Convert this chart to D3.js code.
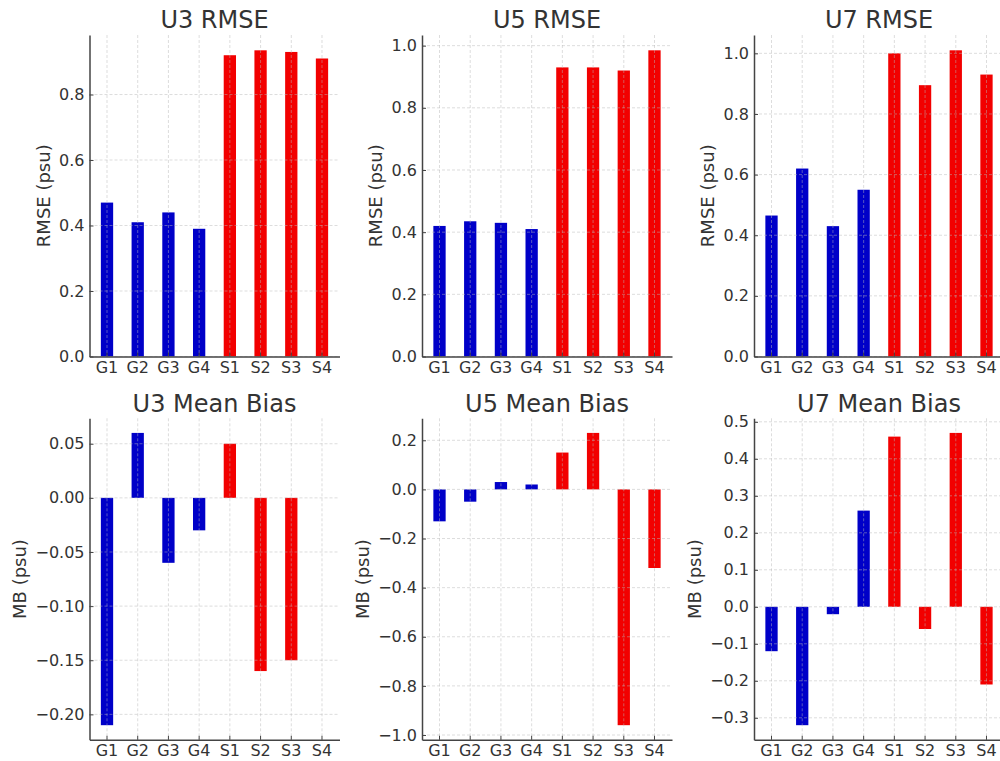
<!DOCTYPE html>
<html>
<head>
<meta charset="utf-8">
<script src="https://cdn.jsdelivr.net/npm/d3@7"></script>
<style>
  body { margin: 0; background: #fff; }
  svg { display: block; font-family: "DejaVu Sans", sans-serif; }
</style>
</head>
<body>
<div id="chart"></div>
<script>
const categories = ["G1", "G2", "G3", "G4", "S1", "S2", "S3", "S4"];

const u3Rmse = [0.47, 0.41, 0.44, 0.39, 0.92, 0.935, 0.93, 0.91];
const u5Rmse = [0.42, 0.435, 0.43, 0.41, 0.93, 0.93, 0.92, 0.985];
const u7Rmse = [0.465, 0.62, 0.43, 0.55, 1.0, 0.895, 1.01, 0.93];

const u3Mb = [-0.21, 0.06, -0.06, -0.03, 0.05, -0.16, -0.15, 0.0];
const u5Mb = [-0.13, -0.05, 0.03, 0.02, 0.15, 0.23, -0.96, -0.32];
const u7Mb = [-0.12, -0.32, -0.02, 0.26, 0.46, -0.06, 0.47, -0.21];

const rmseTicks = [0.0, 0.2, 0.4, 0.6, 0.8, 1.0];
const u3MbTicks = [-0.20, -0.15, -0.10, -0.05, 0.00, 0.05];
const u5MbTicks = [-1.0, -0.8, -0.6, -0.4, -0.2, 0.0, 0.2];
const u7MbTicks = [-0.3, -0.2, -0.1, 0.0, 0.1, 0.2, 0.3, 0.4, 0.5];

const panels = [
    { title: "U3 RMSE", label: "RMSE (psu)", values: u3Rmse, ticks: rmseTicks, digits: 1, row: 0, col: 0 },
    { title: "U5 RMSE", label: "RMSE (psu)", values: u5Rmse, ticks: rmseTicks, digits: 1, row: 0, col: 1 },
    { title: "U7 RMSE", label: "RMSE (psu)", values: u7Rmse, ticks: rmseTicks, digits: 1, row: 0, col: 2 },
    { title: "U3 Mean Bias", label: "MB (psu)", values: u3Mb, ticks: u3MbTicks, digits: 2, row: 1, col: 0 },
    { title: "U5 Mean Bias", label: "MB (psu)", values: u5Mb, ticks: u5MbTicks, digits: 1, row: 1, col: 1 },
    { title: "U7 Mean Bias", label: "MB (psu)", values: u7Mb, ticks: u7MbTicks, digits: 1, row: 1, col: 2 }
];

const colLeft = [89.5, 422, 754];
const rowTop = [35, 418.3];
const plotW = 250, plotH = 321.5;
const textColor = "#333";
const spineColor = "#444";

const svg = d3.select("#chart")
    .append("svg")
    .attr("width", 1000)
    .attr("height", 761);

const colorFor = c => c.startsWith("G") ? "#0000c8" : "#f20000";
const fmtNum = (v, digits) => {
    const s = Math.abs(v).toFixed(digits);
    return v < 0 ? "\u2212" + s : s;
};

panels.forEach(p => {
    const g = svg.append("g")
        .attr("transform", `translate(${colLeft[p.col]},${rowTop[p.row]})`);

    // matplotlib style autoscale: 5% margin, bars stick to zero
    let lo = Math.min(0, d3.min(p.values));
    let hi = Math.max(0, d3.max(p.values));
    const span = hi - lo;
    if (lo < 0) lo -= 0.05 * span;
    if (hi > 0) hi += 0.05 * span;

    const x = d3.scaleBand()
        .domain(categories)
        .range([0, plotW])
        .paddingInner(0.6)
        .paddingOuter(0.37);

    const y = d3.scaleLinear()
        .domain([lo, hi])
        .range([plotH, 0]);

    const ticks = p.ticks.filter(t => t >= lo - 1e-9 && t <= hi + 1e-9);

    // Draw bars
    g.selectAll(".bar")
        .data(categories.map((c, i) => ({ cat: c, v: p.values[i] })))
        .join("rect")
        .attr("class", "bar")
        .attr("x", d => x(d.cat))
        .attr("width", x.bandwidth())
        .attr("y", d => y(Math.max(0, d.v)))
        .attr("height", d => Math.abs(y(d.v) - y(0)))
        .attr("fill", d => colorFor(d.cat));

    // grid on top of bars
    g.append("g")
        .selectAll("line")
        .data(ticks)
        .join("line")
        .attr("x1", 0).attr("x2", plotW)
        .attr("y1", d => y(d)).attr("y2", d => y(d))
        .attr("stroke", "#b8b8b8")
        .attr("stroke-opacity", 0.6)
        .attr("stroke-width", 0.8)
        .attr("stroke-dasharray", "3,2");

    g.append("g")
        .selectAll("line")
        .data(categories)
        .join("line")
        .attr("x1", d => x(d) + x.bandwidth() / 2).attr("x2", d => x(d) + x.bandwidth() / 2)
        .attr("y1", 0).attr("y2", plotH)
        .attr("stroke", "#b8b8b8")
        .attr("stroke-opacity", 0.6)
        .attr("stroke-width", 0.8)
        .attr("stroke-dasharray", "3,2");

    const yAxis = g.append("g")
        .call(d3.axisLeft(y)
            .tickValues(ticks)
            .tickFormat(d => fmtNum(d, p.digits))
            .tickSizeInner(-4)
            .tickSizeOuter(0)
            .tickPadding(5));

    const xAxis = g.append("g")
        .attr("transform", `translate(0,${plotH})`)
        .call(d3.axisBottom(x)
            .tickSizeInner(-4)
            .tickSizeOuter(0)
            .tickPadding(5));

    [yAxis, xAxis].forEach(ax => {
        ax.select(".domain").attr("stroke", spineColor).attr("stroke-width", 1.5);
        ax.selectAll(".tick line").attr("stroke", spineColor).attr("stroke-width", 1);
        ax.selectAll(".tick text")
            .attr("fill", textColor)
            .attr("font-size", 16)
            .attr("font-family", "DejaVu Sans, sans-serif");
    });

    // Title
    g.append("text")
        .attr("x", plotW / 2)
        .attr("y", -6.7)
        .attr("text-anchor", "middle")
        .attr("font-size", 24)
        .attr("fill", textColor)
        .text(p.title);

    // Y label placed left of the tick labels
    const tickBox = yAxis.node().getBBox();
    const labelX = tickBox.x - 15;
    g.append("text")
        .attr("transform", `translate(${labelX},${plotH / 2}) rotate(-90)`)
        .attr("text-anchor", "middle")
        .attr("dy", "0.32em")
        .attr("font-size", 18)
        .attr("fill", textColor)
        .text(p.label);
});
</script>
</body>
</html>
